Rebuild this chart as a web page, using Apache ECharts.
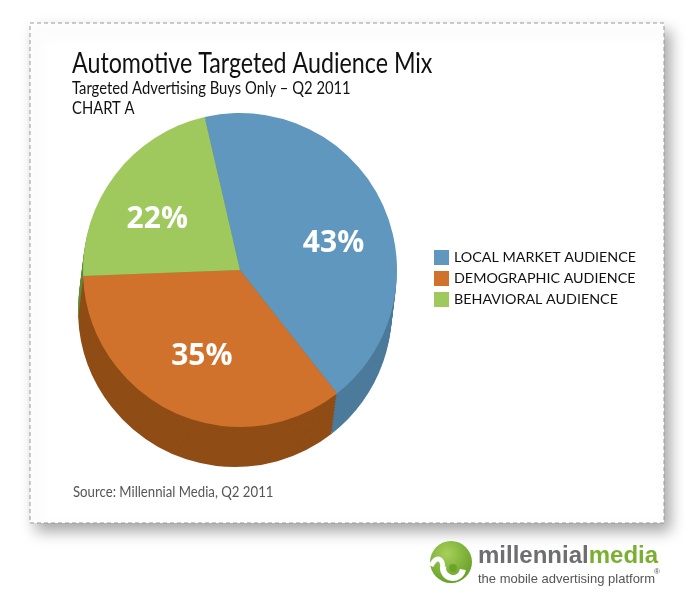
<!DOCTYPE html>
<html>
<head>
<meta charset="utf-8">
<script src="https://cdn.jsdelivr.net/npm/echarts@6/dist/echarts.min.js"></script>
<style>html,body{margin:0;padding:0;background:#fff;}#c{width:700px;height:600px;}</style>
</head>
<body>
<div id="c"></div>
<script>
const categories = ['LOCAL MARKET AUDIENCE', 'DEMOGRAPHIC AUDIENCE', 'BEHAVIORAL AUDIENCE'];
const values = [43, 35, 22];
const topColors = ['#5f97bf', '#d1722c', '#9fc95d'];
const sideColors = ['#4b7a9a', '#8f4c15', '#5f8a37'];
const labelShift = [[20, 11], [-4, 14], [-18, 1]];

const font = 'Lato, sans-serif';
const chart = echarts.init(document.getElementById('c'));

const pieCenter = [240, 270];
const pieRadius = 157;
const depthX = -5, depthY = 40, layers = 14;

const series = [];
for (let k = layers; k >= 1; k--) {
  series.push({
    type: 'pie',
    name: 'side' + k,
    silent: true,
    center: [pieCenter[0] + depthX * k / layers, pieCenter[1] + depthY * k / layers],
    radius: pieRadius,
    startAngle: 103,
    clockwise: true,
    label: { show: false },
    labelLine: { show: false },
    emphasis: { disabled: true },
    data: categories.map((n, i) => ({ name: n, value: values[i], itemStyle: { color: sideColors[i] } }))
  });
}
series.push({
  type: 'pie',
  name: 'top',
  center: pieCenter,
  radius: pieRadius,
  startAngle: 103,
  clockwise: true,
  label: {
    show: true, position: 'inside', formatter: '{c}%',
    color: '#fff', fontSize: 30, fontWeight: 'bold', fontFamily: '"Open Sans", sans-serif'
  },
  labelLine: { show: false },
  labelLayout: function (p) { return { dx: labelShift[p.dataIndex][0], dy: labelShift[p.dataIndex][1] - 2 }; },
  emphasis: { scale: false },
  data: categories.map((n, i) => ({ name: n, value: values[i], itemStyle: { color: topColors[i] } }))
});

function txt(x, y, text, size, color, sx) {
  return {
    type: 'text', x: x, y: y, scaleX: sx, scaleY: 1, silent: true,
    style: { text: text, fontSize: size, fill: color, fontFamily: font, align: 'left', verticalAlign: 'top' }
  };
}

chart.setOption({
  animation: false,
  backgroundColor: '#fff',
  legend: {
    orient: 'vertical',
    left: 429, top: 245,
    itemWidth: 15, itemHeight: 15, itemGap: 6,
    icon: 'rect',
    selectedMode: false,
    textStyle: { fontSize: 14.3, color: '#111', fontFamily: font },
    data: categories.map((n, i) => ({ name: n, itemStyle: { color: topColors[i] } }))
  },
  graphic: [
    {
      type: 'rect', z: -10, silent: true,
      shape: { x: 30, y: 23, width: 634, height: 500 },
      style: {
        fill: '#fff', stroke: '#9a9a9a', lineWidth: 1, lineDash: [4, 3],
        shadowBlur: 14, shadowOffsetX: 6, shadowOffsetY: 8, shadowColor: 'rgba(0,0,0,0.35)'
      }
    },
    txt(72, 50, 'Automotive Targeted Audience Mix', 28, '#111', 0.83),
    txt(72, 80, 'Targeted Advertising Buys Only \u2013 Q2 2011', 17, '#111', 0.87),
    txt(72, 100, 'CHART A', 17, '#111', 0.87),
    txt(73, 485, 'Source: Millennial Media, Q2 2011', 14.5, '#555', 0.91),
    {
      type: 'circle', silent: true,
      shape: { cx: 451, cy: 562, r: 21 },
      style: {
        fill: new echarts.graphic.RadialGradient(0.4, 0.3, 0.8, [
          { offset: 0, color: '#a8d05a' }, { offset: 1, color: '#5e9a22' }
        ])
      }
    },
    {
      type: 'arc', silent: true,
      shape: { cx: 453, cy: 568, r: 10, startAngle: Math.PI * 0.05, endAngle: Math.PI * 1.05, clockwise: true },
      style: { stroke: '#fff', lineWidth: 6, fill: null }
    },
    {
      type: 'bezierCurve', silent: true,
      shape: { x1: 431, y1: 566, x2: 443, y2: 567, cpx1: 436, cpy1: 556, cpx2: 442, cpy2: 557 },
      style: { stroke: '#fff', lineWidth: 5, fill: null }
    },
    { type: 'circle', silent: true, shape: { cx: 453, cy: 568, r: 4 }, style: { fill: '#6aa52a' } },
    {
      type: 'text', left: 478, top: 544,
      style: {
        text: '{a|millennial}{b|media}',
        rich: {
          a: { fontSize: 24, fontWeight: 'bold', fill: '#6d6e70', color: '#6d6e70', fontFamily: '"Liberation Sans", sans-serif' },
          b: { fontSize: 24, fontWeight: 'bold', fill: '#7ab030', color: '#7ab030', fontFamily: '"Liberation Sans", sans-serif' }
        }
      }
    },
    { type: 'text', left: 478, top: 573, style: { text: 'the mobile advertising platform', fontSize: 13, fill: '#555', fontFamily: '"Liberation Sans", sans-serif' } },
    { type: 'text', left: 654, top: 568, style: { text: '\u00ae', fontSize: 8, fill: '#555', fontFamily: '"Liberation Sans", sans-serif' } }
  ],
  series: series
});
</script>
</body>
</html>
